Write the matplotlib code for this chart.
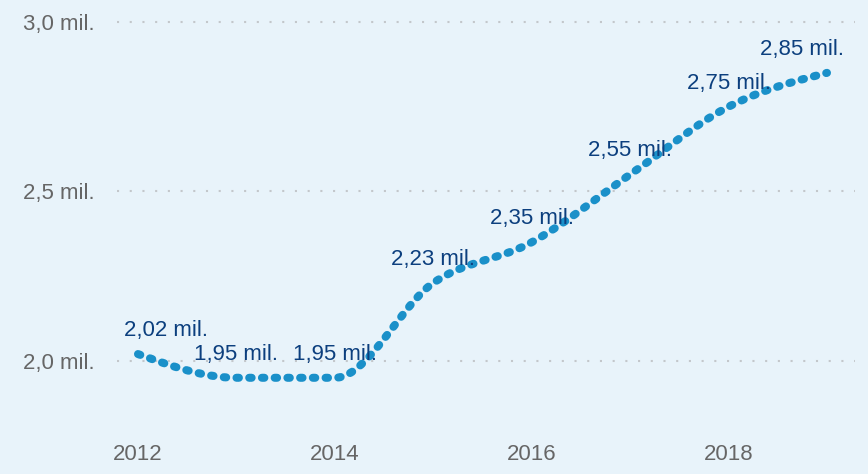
import numpy as np
import matplotlib
matplotlib.use("Agg")
import matplotlib.pyplot as plt

years = [2012, 2013, 2014, 2015, 2016, 2017, 2018, 2019]
values = [2.02, 1.95, 1.95, 2.23, 2.35, 2.55, 2.75, 2.85]
labels = ["2,02 mil.", "1,95 mil.", "1,95 mil.", "2,23 mil.", "2,35 mil.",
          "2,55 mil.", "2,75 mil.", "2,85 mil."]
xticks = [2012, 2014, 2016, 2018]
yticks = [2.0, 2.5, 3.0]
ytick_labels = ["2,0 mil.", "2,5 mil.", "3,0 mil."]

BG = "#e8f3fa"
LINE = "#1a90c9"
LABEL = "#0c3f7e"
TICK = "#666666"

plt.rcParams["font.family"] = ["Liberation Sans", "DejaVu Sans"]


def monotone_x(x, y, n=40):
    """Render helper: d3 curveMonotoneX style smoothing of the polyline."""
    x = np.asarray(x, float)
    y = np.asarray(y, float)
    m = len(x)
    h = np.diff(x)
    s = np.diff(y) / h
    t = np.zeros(m)
    for i in range(1, m - 1):
        p = (s[i - 1] * h[i] + s[i] * h[i - 1]) / (h[i - 1] + h[i])
        v = (np.sign(s[i - 1]) + np.sign(s[i])) * min(abs(s[i - 1]), abs(s[i]), 0.5 * abs(p))
        t[i] = v
    t[0] = (3 * s[0] - t[1]) / 2
    t[-1] = (3 * s[-1] - t[-2]) / 2
    xs, ys = [], []
    for i in range(m - 1):
        u = np.linspace(0, 1, n, endpoint=(i == m - 2))
        h00 = 2 * u**3 - 3 * u**2 + 1
        h10 = u**3 - 2 * u**2 + u
        h01 = -2 * u**3 + 3 * u**2
        h11 = u**3 - u**2
        xs.append(x[i] + u * h[i])
        ys.append(h00 * y[i] + h10 * h[i] * t[i] + h01 * y[i + 1] + h11 * h[i] * t[i + 1])
    return np.concatenate(xs), np.concatenate(ys)


fig = plt.figure(figsize=(8.68, 4.74), dpi=100, facecolor=BG)
ax = fig.add_axes([117 / 868, 1 - 430 / 474, 1 - 117 / 868, 420 / 474])
ax.set_facecolor(BG)

ax.set_xlim(2012 - 21 / 98.4, 2019 + 41 / 98.4)
ax.set_ylim(2.0 - 69 / 338, 3.0 + 12 / 338)

for yv in yticks:
    ax.axhline(yv, xmin=0, xmax=(855 - 117) / 751, color="#c3c7cb", lw=1.5,
               ls=(0, (1.0, 5.1)), dash_capstyle="butt", zorder=1)

cx, cy = monotone_x(years, values)
ax.plot(cx, cy, color=LINE, lw=5.8, ls=(0, (0.3, 1.28)), dash_capstyle="round",
        solid_capstyle="round", zorder=2)

offsets = [20, 0, 0, 0, 0, 0, 0, -18]
for xv, yv, lab, dx in zip(years, values, labels, offsets):
    ax.annotate(lab, (xv, yv), xytext=(dx, 17), textcoords="offset points",
                ha="center", va="center", color=LABEL, fontsize=16, zorder=3)

ax.set_xticks(xticks)
ax.set_xticklabels([str(v) for v in xticks])
ax.set_yticks(yticks)
ax.set_yticklabels(ytick_labels)
ax.tick_params(axis="both", length=0, colors=TICK, labelsize=16)
ax.tick_params(axis="x", pad=10)
ax.tick_params(axis="y", pad=16)
for sp in ax.spines.values():
    sp.set_visible(False)

fig.savefig("out.png", dpi=100, facecolor=BG)
